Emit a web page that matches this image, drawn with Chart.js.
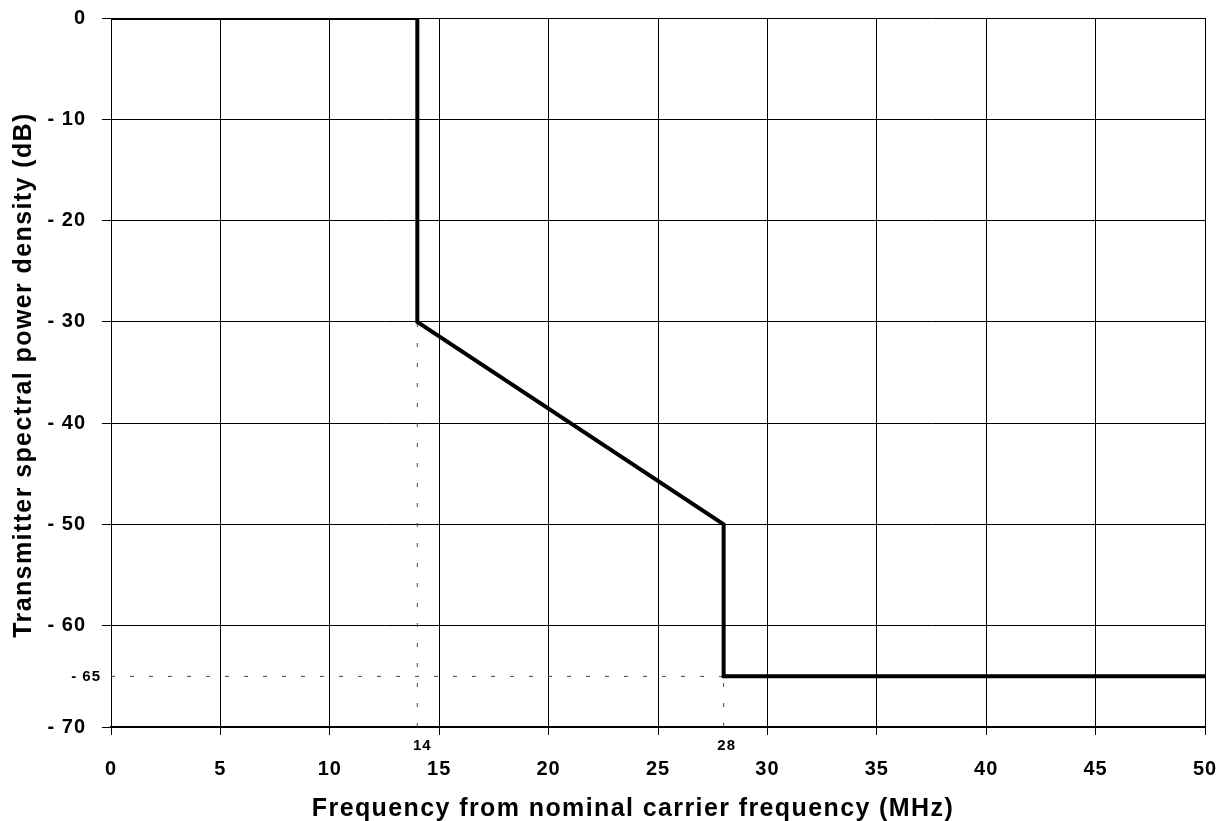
<!DOCTYPE html>
<html>
<head>
<meta charset="utf-8">
<script src="https://cdn.jsdelivr.net/npm/chart.js@4"></script>
<style>
html,body{margin:0;padding:0;background:#fff;}
#wrap{width:1220px;height:821px;}
</style>
</head>
<body>
<div id="wrap"><canvas id="c" width="1220" height="821"></canvas></div>
<script>
// Mask breakpoints (MHz, dB)
const maskFreq = [0, 14, 14, 28, 28, 50];
const maskLevel = [0, 0, -30, -50, -65, -65];
// Reference markers
const markFreqs = [14, 28];
const markLevel = -65;
const xTickStep = 5, xMin = 0, xMax = 50;
const yTickStep = 10, yMin = -70, yMax = 0;
const xTitle = 'Frequency from nominal carrier frequency (MHz)';
const yTitle = 'Transmitter spectral power density (dB)';

const maskData = maskFreq.map((f, i) => ({x: f, y: maskLevel[i]}));
const hLine = [{x: xMin, y: markLevel}, {x: markFreqs[1], y: markLevel}];
const v14 = [{x: markFreqs[0], y: yMin}, {x: markFreqs[0], y: maskLevel[2]}];
const v28 = [{x: markFreqs[1], y: yMin}, {x: markFreqs[1], y: markLevel}];

const fmtY = v => v < 0 ? '- ' + (-v) : String(v);
const FONT = 'Arial, "Liberation Sans", sans-serif';

const spacingPlugin = {
  id: 'spacing',
  beforeDraw(chart) { chart.ctx.letterSpacing = '1px'; }
};

const extraLabels = {
  id: 'extraLabels',
  afterDraw(chart) {
    const ctx = chart.ctx, xs = chart.scales.x, ys = chart.scales.y;
    ctx.save();
    ctx.fillStyle = '#000';
    ctx.letterSpacing = '1px';
    ctx.font = 'bold 15px ' + FONT;
    ctx.textAlign = 'center';
    ctx.textBaseline = 'middle';
    ctx.fillText(String(markFreqs[0]), xs.getPixelForValue(markFreqs[0]) + 5, 746);
    ctx.fillText(String(markFreqs[1]), xs.getPixelForValue(markFreqs[1]) + 3, 746);
    ctx.textAlign = 'right';
    ctx.fillText(fmtY(markLevel), 101, ys.getPixelForValue(markLevel) + 1);
    // axis titles
    ctx.font = 'bold 25px ' + FONT;
    ctx.letterSpacing = '1.4px';
    ctx.textAlign = 'center';
    ctx.textBaseline = 'alphabetic';
    ctx.fillText(xTitle, 633, 816);
    ctx.translate(31, 375);
    ctx.rotate(-Math.PI / 2);
    ctx.fillText(yTitle, 0, 0);
    ctx.restore();
  }
};

new Chart(document.getElementById('c'), {
  type: 'scatter',
  data: {
    datasets: [
      {data: maskData, showLine: true, borderColor: '#000', borderWidth: 4, pointRadius: 0, order: 0, borderCapStyle: 'butt', borderJoinStyle: 'miter'},
      {data: hLine, showLine: true, borderColor: '#444', borderWidth: 1, borderDash: [4, 15], pointRadius: 0, order: 1},
      {data: v14, showLine: true, borderColor: '#444', borderWidth: 1, borderDash: [4, 16], pointRadius: 0, order: 1},
      {data: v28, showLine: true, borderColor: '#444', borderWidth: 1, borderDash: [4, 16], pointRadius: 0, order: 1}
    ]
  },
  options: {
    responsive: false,
    animation: false,
    devicePixelRatio: 1,
    layout: {padding: {left: 0, right: 15, top: 18, bottom: 0}},
    plugins: {legend: {display: false}, tooltip: {enabled: false}},
    scales: {
      x: {
        type: 'linear', min: xMin, max: xMax,
        ticks: {stepSize: xTickStep, color: '#000', padding: 22, maxRotation: 0,
          font: {family: FONT, size: 20, weight: 'bold'}},
        grid: {color: '#000', lineWidth: 1, tickLength: 8, drawOnChartArea: true},
        border: {color: '#000', width: 2},
        afterFit(s) { s.height = 94; s.paddingLeft = 0; s.paddingRight = 0; }
      },
      y: {
        type: 'linear', min: yMin, max: yMax,
        ticks: {stepSize: yTickStep, color: '#000', padding: 16, callback: fmtY,
          font: {family: FONT, size: 20, weight: 'bold'}},
        grid: {color: '#000', lineWidth: 1, tickLength: 9},
        border: {color: '#000', width: 1},
        afterFit(s) { s.width = 111; s.paddingTop = 0; s.paddingBottom = 0; }
      }
    }
  },
  plugins: [spacingPlugin, extraLabels]
});
</script>
</body>
</html>
